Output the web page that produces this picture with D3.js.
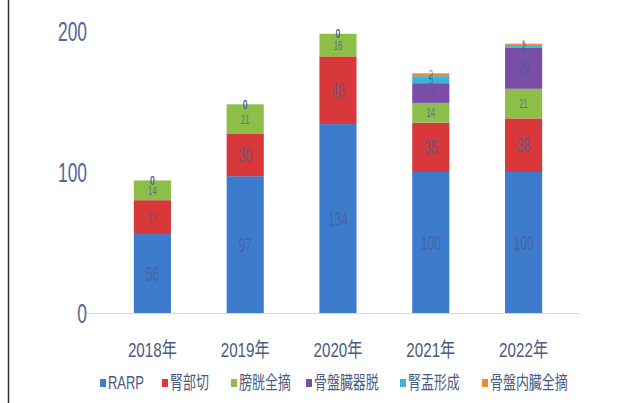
<!DOCTYPE html>
<html>
<head>
<meta charset="utf-8">
<script src="https://cdn.jsdelivr.net/npm/d3@7"></script>
<style>
  body { margin: 0; background: #fff; }
  svg text { font-family: "Liberation Sans", "Noto Sans CJK JP", sans-serif; }
</style>
</head>
<body>
<svg width="617" height="403"></svg>
<script>
var years = ["2018年", "2019年", "2020年", "2021年", "2022年"];
var series = ["RARP", "腎部切", "膀胱全摘", "骨盤臓器脱", "腎盂形成", "骨盤内臓全摘"];
var rarp    = [56, 97, 134, 100, 100];
var bubun   = [24, 30, 48, 35, 38];
var bokou   = [14, 21, 16, 14, 21];
var kotsuban = [0, 0, 0, 14, 29];
var jinu    = [0, 0, 0, 5, 2];
var naizou  = [0, 0, 0, 2, 1];
var yTicks = [0, 100, 200];

var colors = ["#3d7ccc", "#d8383a", "#8dbf48", "#7a4ea6", "#3cb6d6", "#f08a32"];

var rows = years.map(function(y, i) {
  return { year: y, "RARP": rarp[i], "腎部切": bubun[i], "膀胱全摘": bokou[i],
           "骨盤臓器脱": kotsuban[i], "腎盂形成": jinu[i], "骨盤内臓全摘": naizou[i] };
});

var svg = d3.select("svg");

// left frame line
svg.append("line").attr("x1", 8.5).attr("x2", 8.5).attr("y1", 0).attr("y2", 403)
  .attr("stroke", "#333").attr("stroke-width", 1.5);

var x = d3.scaleBand().domain(years).range([106, 570]).paddingInner(0.6).paddingOuter(0.3);
var y = d3.scaleLinear().domain([0, 200]).range([313, 31]);
var color = d3.scaleOrdinal(series, colors);

var stack = d3.stack().keys(series)(rows);

// narrow text: a group at the spot, the text squeezed horizontally
function narrow(sel, sx) {
  return sel.append("text").attr("transform", "scale(" + sx + ",1)").attr("dy", "0.35em");
}

// baseline
svg.append("line").attr("x1", 86).attr("x2", 580).attr("y1", y(0) + 0.5).attr("y2", y(0) + 0.5)
  .attr("stroke", "#d9d9d9");

// y tick labels
var yt = svg.selectAll(".ytick").data(yTicks).enter().append("g")
  .attr("transform", function(d) { return "translate(87," + y(d) + ")"; });
narrow(yt, 0.62).attr("text-anchor", "end")
  .attr("font-size", 28).attr("fill", "#52659a")
  .text(function(d) { return d; });

var layer = svg.selectAll(".layer").data(stack).enter().append("g")
  .attr("fill", function(d) { return color(d.key); });

layer.selectAll("rect").data(function(d) { return d; }).enter().append("rect")
  .attr("x", function(d) { return x(d.data.year); })
  .attr("width", x.bandwidth())
  .attr("y", function(d) { return y(d[1]); })
  .attr("height", function(d) { return y(d[0]) - y(d[1]); });

// data labels (Excel-style, small ones pile up at the top)
var lab = svg.append("g").selectAll("g").data(stack.flatMap(function(s) { return s; }))
  .enter().append("g")
  .attr("transform", function(d) {
    return "translate(" + (x(d.data.year) + x.bandwidth() / 2) + "," + (y(d[0]) + y(d[1])) / 2 + ")";
  });
narrow(lab, 0.6).attr("text-anchor", "middle")
  .attr("font-size", function(d) { return d[1] - d[0] > 24 ? 20 : 13; })
  .attr("fill", "#4a5c92")
  .attr("fill-opacity", 0.8)
  .text(function(d) { return d[1] - d[0]; });

// x labels
var xl = svg.selectAll(".xlab").data(years).enter().append("g")
  .attr("transform", function(d) { return "translate(" + (x(d) + x.bandwidth() / 2) + ",350)"; });
narrow(xl, 0.76).attr("text-anchor", "middle")
  .attr("font-size", 20).attr("fill", "#4a5a82")
  .text(function(d) { return d; });

// legend
var legendX = [100, 162, 231, 306, 400, 482];
var lg = svg.selectAll(".lg").data(series).enter().append("g")
  .attr("transform", function(d, i) { return "translate(" + legendX[i] + ",383)"; });
lg.append("rect").attr("x", 0).attr("y", -4).attr("width", 6).attr("height", 8)
  .attr("fill", function(d) { return color(d); });
narrow(lg.append("g").attr("transform", "translate(8,0)"), 0.72)
  .attr("font-size", 18).attr("fill", "#4a5a82")
  .text(function(d) { return d; });
</script>
</body>
</html>
